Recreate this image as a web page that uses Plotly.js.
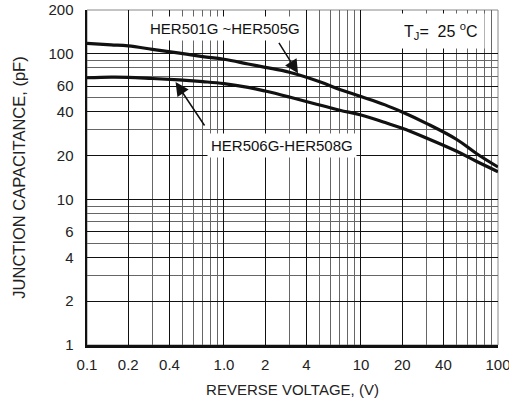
<!DOCTYPE html>
<html><head><meta charset="utf-8">
<script src="https://cdn.plot.ly/plotly-3.0.1.min.js"></script>
<style>html,body{margin:0;padding:0;background:#fff}#chart{width:509px;height:405px}</style>
</head><body><div id="chart"></div>
<script>
const voltage = [0.1, 0.15, 0.2, 0.3, 0.5, 0.7, 1, 1.5, 2, 3, 5, 7, 10, 15, 20, 30, 50, 70, 100];
const capHER501_505 = [118.1, 115.3, 113.3, 107.4, 100.3, 95.8, 91.8, 85.2, 80.8, 74.7, 64.3, 56.9, 50.9, 44.6, 39.8, 33.3, 25.8, 20.6, 16.7];
const capHER506_508 = [68.5, 69.2, 69.0, 67.7, 65.9, 64.4, 62.4, 58.8, 55.5, 50.5, 44.5, 41.0, 38.0, 33.7, 30.8, 26.4, 21.4, 18.2, 15.5];
const xTickVals = [0.1, 0.2, 0.4, 1, 2, 4, 10, 20, 40, 100];
const xTickText = ['0.1', '0.2', '0.4', '1.0', '2', '4', '10', '20', '40', '100'];
const yTickVals = [1, 2, 4, 6, 10, 20, 40, 60, 100, 200];
const yTickText = ['1', '2', '4', '6', '10', '20', '40', '60', '100', '200'];
const xMinorGrid = [0.3, 0.5, 0.6, 0.7, 0.8, 0.9, 3, 5, 6, 7, 8, 9, 30, 50, 60, 70, 80, 90];
const yMinorGrid = [3, 5, 7, 8, 9, 30, 50, 70, 80, 90];

const FONT = 'Liberation Sans, Arial, Helvetica, sans-serif';

const traces = [
  {x: voltage, y: capHER501_505, mode: 'lines', line: {color: '#111', width: 3.2, shape: 'spline', smoothing: 1.1}, hoverinfo: 'skip'},
  {x: voltage, y: capHER506_508, mode: 'lines', line: {color: '#111', width: 3.2, shape: 'spline', smoothing: 1.1}, hoverinfo: 'skip'}
];

const layout = {
  width: 509, height: 405,
  margin: {l: 87, r: 11, t: 10, b: 60},
  paper_bgcolor: '#fff', plot_bgcolor: '#fff',
  showlegend: false,
  font: {family: FONT, color: '#222', size: 14},
  xaxis: {
    type: 'log', range: [-1, 2.0002],
    tickmode: 'array', tickvals: xTickVals, ticktext: xTickText,
    ticks: '', ticklabelstandoff: 4, ticklabeloverflow: 'allow',
    tickfont: {family: FONT, size: 15, color: '#222'},
    showgrid: true, gridcolor: '#111', gridwidth: 1,
    minor: {tickmode: 'array', tickvals: xMinorGrid, showgrid: true, gridcolor: '#666', gridwidth: 1, ticks: ''},
    showline: true, linecolor: '#111', linewidth: 2.5, mirror: false,
    zeroline: false, fixedrange: true,
    title: {text: 'REVERSE VOLTAGE, (V)', font: {family: FONT, size: 15, color: '#222'}, standoff: 13}
  },
  yaxis: {
    type: 'log', range: [0, Math.log10(200)],
    tickmode: 'array', tickvals: yTickVals, ticktext: yTickText,
    ticks: '', ticklabelstandoff: 8,
    tickfont: {family: FONT, size: 15, color: '#222'},
    showgrid: true, gridcolor: '#111', gridwidth: 1,
    minor: {tickmode: 'array', tickvals: yMinorGrid, showgrid: true, gridcolor: '#666', gridwidth: 1, ticks: ''},
    showline: true, linecolor: '#111', linewidth: 2.5, mirror: false,
    zeroline: false, fixedrange: true,
    title: {text: 'JUNCTION CAPACITANCE, (pF)', font: {family: FONT, size: 16.5, color: '#222'}, standoff: 19}
  },
  shapes: [
    {type: 'rect', xref: 'paper', yref: 'paper', x0: 0, x1: 1, y0: 0, y1: 1, line: {color: '#888', width: 1}, layer: 'below'}
  ],
  annotations: [
    {xref: 'paper', yref: 'paper', x: 0.336, y: 0.946, xanchor: 'center', yanchor: 'middle',
     text: 'HER501G ~HER505G', showarrow: false,
     bgcolor: '#fff', borderpad: 3, font: {family: FONT, size: 15, color: '#111'}},
    {xref: 'paper', yref: 'paper', x: 0.474, y: 0.597, xanchor: 'center', yanchor: 'middle',
     text: 'HER506G-HER508G', showarrow: false,
     bgcolor: '#fff', borderpad: 3, font: {family: FONT, size: 15, color: '#111'}},
    {xref: 'paper', yref: 'paper', x: 0.862, y: 0.937, xanchor: 'center', yanchor: 'middle',
     text: 'T<sub>J</sub>=&nbsp;&nbsp;25 <sup>o</sup>C', showarrow: false,
     bgcolor: '#fff', borderpad: 6, font: {family: FONT, size: 16, color: '#111'}},
    {x: Math.log10(3.47), y: Math.log10(73.5), xref: 'x', yref: 'y', text: '', showarrow: true,
     ax: -20, ay: -32, arrowhead: 2, arrowsize: 1.8, arrowwidth: 1.5, arrowcolor: '#111'},
    {x: Math.log10(0.443), y: Math.log10(64.0), xref: 'x', yref: 'y', text: '', showarrow: true,
     ax: 30, ay: 45, arrowhead: 2, arrowsize: 1.8, arrowwidth: 1.5, arrowcolor: '#111'}
  ]
};

Plotly.newPlot('chart', traces, layout, {displayModeBar: false, staticPlot: true});
</script>
</body></html>
